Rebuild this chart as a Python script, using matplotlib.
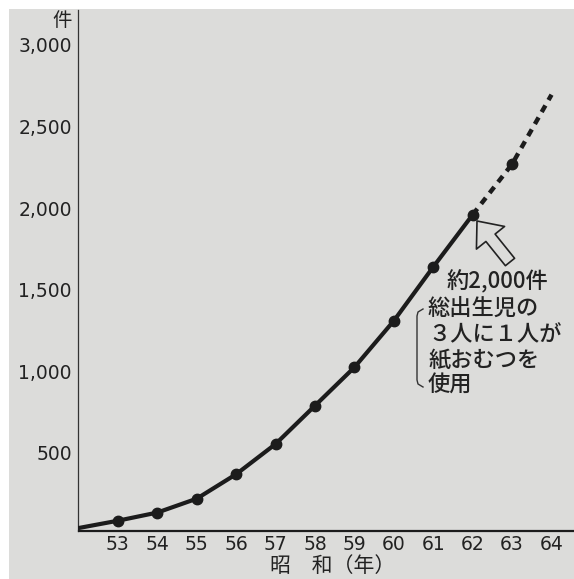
import matplotlib
matplotlib.use("Agg")
import matplotlib.pyplot as plt
from matplotlib.lines import Line2D
from matplotlib.patches import Rectangle

# ---- data ----
years_solid = [52, 53, 54, 55, 56, 57, 58, 59, 60, 61, 62]
values_solid = [40, 85, 135, 220, 370, 555, 790, 1025, 1310, 1640, 1960]
years_dash = [62, 63, 64]
values_dash = [1960, 2270, 2695]
marker_years = [53, 54, 55, 56, 57, 58, 59, 60, 61, 62, 63]
marker_values = [85, 135, 220, 370, 555, 790, 1025, 1310, 1640, 1960, 2270]
x_ticks = [53, 54, 55, 56, 57, 58, 59, 60, 61, 62, 63, 64]
x_ticklabels = ["53", "54", "55", "56", "57", "58", "59", "60", "61", "62", "63", "64"]
y_ticks = [500, 1000, 1500, 2000, 2500, 3000]
y_ticklabels = ["500", "1,000", "1,500", "2,000", "2,500", "3,000"]
note_lines = ["約2,000件", "総出生児の", "３人に１人が", "紙おむつを", "使用"]

W, H = 574, 579
BG = "#dcdcda"
INK = "#1c1c1c"
CJK = ["Noto Sans CJK JP", "DejaVu Sans"]

fig = plt.figure(figsize=(W / 100, H / 100), dpi=100)
fig.patch.set_facecolor("white")
fig.add_artist(Rectangle((9 / W, 0), 1 - 9 / W, 1 - 9 / H, transform=fig.transFigure,
                         facecolor=BG, edgecolor="none", zorder=-10))

def fx(px):
    return px / W

def fy(py):
    return 1 - py / H

ax = fig.add_axes([fx(78.5), fy(530.5), 1 - fx(78.5), fy(10) - fy(530.5)])
ax.patch.set_alpha(0)
ax.set_xlim(52, 64.57)
ax.set_ylim(25, 3214)

ax.plot(years_solid, values_solid, color=INK, lw=3.0, solid_capstyle="round", zorder=3)
ax.plot(years_dash, values_dash, color=INK, lw=3.2, dashes=(1.7, 1.4), zorder=3)
ax.plot(marker_years, marker_values, "o", color=INK, ms=7.5, zorder=4)

for s in ["top", "right"]:
    ax.spines[s].set_visible(False)
ax.spines["left"].set_linewidth(0.9)
ax.spines["left"].set_color("#333333")
ax.spines["bottom"].set_linewidth(1.6)
ax.spines["bottom"].set_color(INK)

ax.set_xticks(x_ticks)
ax.set_xticklabels(x_ticklabels)
ax.set_yticks(y_ticks)
ax.set_yticklabels(y_ticklabels)
ax.tick_params(axis="both", length=0, labelsize=13.5, colors="#222222")
ax.tick_params(axis="y", pad=4.7)
ax.tick_params(axis="x", pad=3.5)

fig.text(fx(72), fy(21), "件", family=CJK, fontsize=14, ha="right", va="center", color="#222222")
fig.text(fx(333), fy(566), "昭　和（年）", family=CJK, fontsize=15, ha="center", va="center", color="#222222")

# note text
note_pos = [(447, 282), (428, 308), (428, 335), (428, 361), (428, 385)]
for txt, (px, py) in zip(note_lines, note_pos):
    fig.text(fx(px), fy(py), txt, family=CJK, fontsize=16, ha="left", va="center",
             color="#222222", weight="medium")

# bracket
bx = [fx(423), fx(418), fx(417), fx(417), fx(418), fx(423)]
by = [fy(309), fy(312), fy(316), fy(380), fy(384), fy(387)]
fig.add_artist(Line2D(bx, by, transform=fig.transFigure, color="#333333", lw=1.0))

# hollow arrow
ax.annotate("", xy=(477, H - 221), xycoords="figure pixels",
            xytext=(510, H - 262), textcoords="figure pixels",
            arrowprops=dict(arrowstyle="simple,head_length=1.55,head_width=2.6,tail_width=0.85",
                            mutation_scale=10, fc=BG, ec="#222222", lw=1.2,
                            shrinkA=0, shrinkB=0), zorder=5)

fig.savefig("out.png", dpi=100)
